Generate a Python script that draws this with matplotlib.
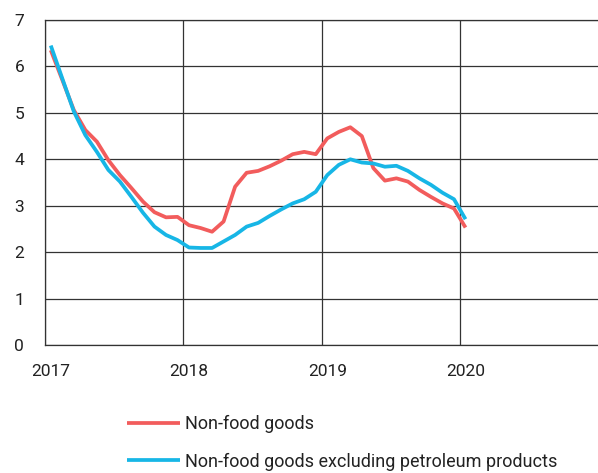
import numpy as np
import matplotlib.pyplot as plt
from matplotlib.ticker import FixedLocator

plt.rcParams['font.family'] = ['Roboto', 'DejaVu Sans']

# Monthly data, Jan 2017 - Jan 2020 (% y/y)
non_food = [6.35, 5.71, 5.06, 4.63, 4.38, 3.98, 3.66, 3.38, 3.09, 2.86, 2.75, 2.76,
            2.58, 2.52, 2.44, 2.66, 3.41, 3.71, 3.75, 3.85, 3.97, 4.11, 4.16, 4.11,
            4.45, 4.59, 4.69, 4.50, 3.81, 3.54, 3.59, 3.52, 3.34, 3.19, 3.05, 2.94,
            2.53]
non_food_ex_petrol = [6.45, 5.74, 5.03, 4.52, 4.16, 3.77, 3.52, 3.19, 2.85, 2.55, 2.37, 2.26,
                      2.10, 2.09, 2.09, 2.23, 2.37, 2.55, 2.63, 2.78, 2.92, 3.05, 3.14, 3.30,
                      3.66, 3.88, 4.00, 3.93, 3.91, 3.84, 3.86, 3.75, 3.59, 3.45, 3.28, 3.14,
                      2.71]
years = [2017, 2018, 2019, 2020]
labels = ['Non-food goods', 'Non-food goods excluding petroleum products']

# months plotted at mid-month
x = 2017 + (np.arange(len(non_food)) + 0.5) / 12

fig = plt.figure(figsize=(5.98, 4.73), dpi=100)
ax = fig.add_axes([0.0753, 0.2706, 0.9247, 0.6871])

ax.plot(x, non_food, color='#f25c5c', lw=2.7, label=labels[0], solid_capstyle='butt')
ax.plot(x, non_food_ex_petrol, color='#17b6e6', lw=2.7, label=labels[1], solid_capstyle='butt')

ax.set_xlim(2017, 2021)
ax.set_ylim(0, 7)
ax.set_yticks(range(0, 8))

# gridlines at year start, labels at mid-January
ax.xaxis.set_major_locator(FixedLocator(years))
ax.xaxis.set_minor_locator(FixedLocator([y + 1 / 24 for y in years]))
ax.set_xticklabels([''] * len(years))
ax.set_xticklabels([str(y) for y in years], minor=True)
ax.tick_params(axis='x', which='both', length=0, pad=14, labelsize=12.5, colors='#222222')
ax.tick_params(axis='y', length=0, pad=15, labelsize=12.5, colors='#222222')

ax.grid(True, which='major', color='#333333', lw=0.9)
ax.set_axisbelow(True)
for side in ['left', 'bottom', 'top']:
    ax.spines[side].set_color('#333333')
    ax.spines[side].set_linewidth(0.9)
ax.spines['right'].set_visible(False)

fig.legend(loc='upper left', bbox_to_anchor=(0.212, 0.122), frameon=False,
           fontsize=13, handlelength=2.93, handletextpad=0.28, labelspacing=1.07,
           borderaxespad=0, borderpad=0, labelcolor='#222222')

fig.savefig('out.png', dpi=100)
